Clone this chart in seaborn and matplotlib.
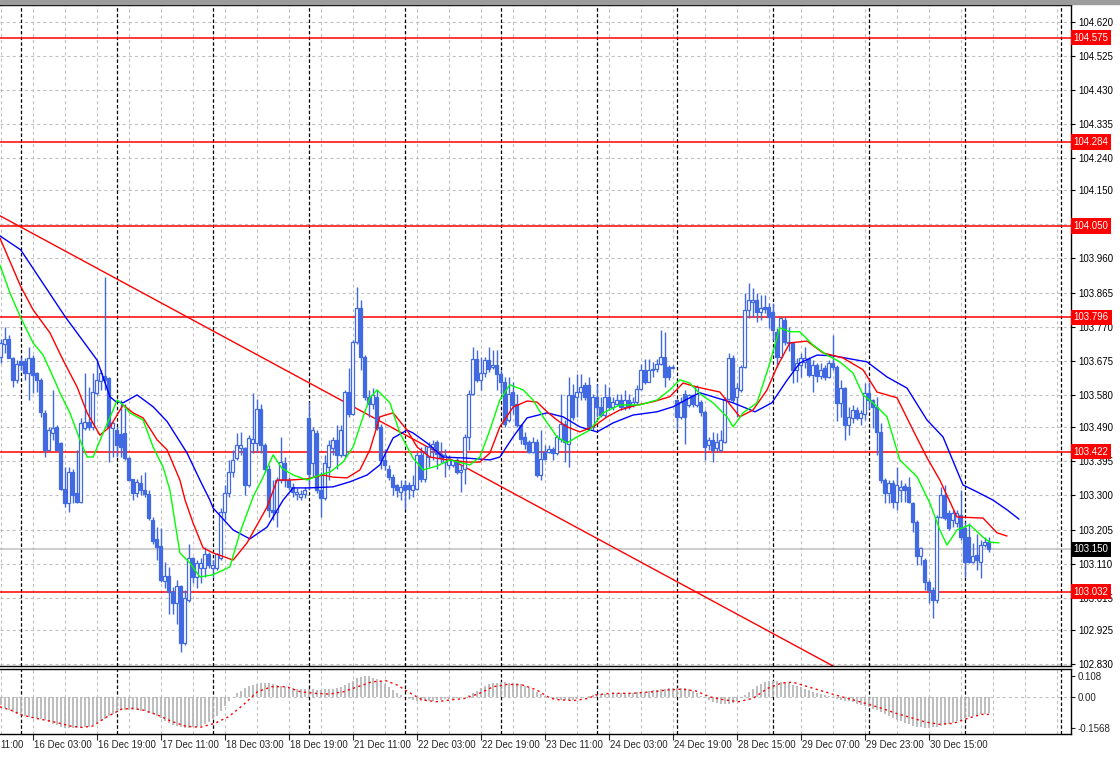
import matplotlib
matplotlib.use("Agg")
import matplotlib.pyplot as plt
import matplotlib.transforms as mtransforms
from matplotlib.patches import Rectangle
import seaborn as sns

## hourly bars, bar 0 = 16 Dec 00:00 (weekend hours are skipped like the terminal does)
first_bar = -5
opens = [103.686, 103.723, 103.737, 103.682, 103.621, 103.675, 103.675, 103.640, 103.684, 103.640,
         103.621, 103.531, 103.426, 103.475, 103.491, 103.445, 103.317, 103.278, 103.366, 103.306,
         103.282, 103.487, 103.505, 103.491, 103.584, 103.619, 103.632, 103.626, 103.489, 103.482,
         103.471, 103.473, 103.403, 103.347, 103.306, 103.335, 103.315, 103.304, 103.233, 103.180,
         103.159, 103.062, 103.075, 103.032, 103.001, 103.047, 102.888, 103.008, 103.125, 103.074,
         103.099, 103.099, 103.138, 103.097, 103.099, 103.125, 103.255, 103.306, 103.366, 103.403,
         103.431, 103.431, 103.329, 103.445, 103.445, 103.542, 103.440, 103.375, 103.259, 103.255,
         103.343, 103.391, 103.343, 103.324, 103.304, 103.295, 103.304, 103.515, 103.389, 103.473,
         103.315, 103.292, 103.380, 103.431, 103.454, 103.412, 103.412, 103.589, 103.528, 103.728,
         103.821, 103.686, 103.575, 103.556, 103.575, 103.491, 103.400, 103.375, 103.352, 103.328,
         103.310, 103.328, 103.328, 103.316, 103.319, 103.412, 103.345, 103.407, 103.435, 103.449,
         103.416, 103.393, 103.384, 103.384, 103.398, 103.365, 103.375, 103.463, 103.583, 103.681,
         103.621, 103.640, 103.676, 103.658, 103.664, 103.639, 103.616, 103.509, 103.588, 103.556,
         103.495, 103.463, 103.449, 103.421, 103.449, 103.356, 103.420, 103.421, 103.428, 103.417,
         103.458, 103.498, 103.444, 103.581, 103.574, 103.588, 103.607, 103.607, 103.491, 103.574,
         103.546, 103.523, 103.574, 103.546, 103.556, 103.565, 103.546, 103.565, 103.553, 103.560,
         103.597, 103.649, 103.616, 103.649, 103.653, 103.667, 103.686, 103.658, 103.658, 103.565,
         103.519, 103.583, 103.551, 103.579, 103.551, 103.561, 103.533, 103.441, 103.454, 103.431,
         103.427, 103.450, 103.570, 103.682, 103.575, 103.594, 103.659, 103.817, 103.840, 103.844,
         103.812, 103.824, 103.826, 103.812, 103.756, 103.687, 103.789, 103.728, 103.724, 103.649,
         103.663, 103.673, 103.679, 103.636, 103.663, 103.633, 103.654, 103.631, 103.670, 103.659,
         103.557, 103.598, 103.496, 103.515, 103.538, 103.515, 103.527, 103.584, 103.565, 103.547,
         103.478, 103.343, 103.306, 103.334, 103.283, 103.315, 103.326, 103.324, 103.278, 103.227,
         103.130, 103.120, 103.060, 103.037, 103.009, 103.241, 103.301, 103.250, 103.232, 103.222,
         103.246, 103.208, 103.185, 103.116, 103.134, 103.116, 103.162, 103.171]
highs = [103.735, 103.770, 103.747, 103.686, 103.677, 103.686, 103.682, 103.714, 103.691, 103.645,
         103.626, 103.538, 103.491, 103.593, 103.496, 103.450, 103.380, 103.380, 103.375, 103.426,
         103.515, 103.640, 103.603, 103.640, 103.677, 103.649, 103.909, 103.630, 103.505, 103.491,
         103.566, 103.556, 103.408, 103.347, 103.345, 103.357, 103.366, 103.315, 103.241, 103.213,
         103.208, 103.115, 103.101, 103.046, 103.064, 103.050, 103.036, 103.166, 103.129, 103.120,
         103.125, 103.157, 103.143, 103.120, 103.140, 103.264, 103.329, 103.398, 103.426, 103.473,
         103.477, 103.436, 103.468, 103.584, 103.570, 103.556, 103.445, 103.385, 103.343, 103.352,
         103.463, 103.408, 103.352, 103.334, 103.320, 103.315, 103.324, 103.561, 103.491, 103.482,
         103.366, 103.412, 103.454, 103.463, 103.496, 103.496, 103.593, 103.654, 103.733, 103.880,
         103.844, 103.691, 103.593, 103.600, 103.593, 103.500, 103.430, 103.384, 103.361, 103.333,
         103.342, 103.342, 103.338, 103.356, 103.421, 103.435, 103.440, 103.449, 103.454, 103.454,
         103.449, 103.430, 103.412, 103.400, 103.405, 103.384, 103.472, 103.593, 103.714, 103.704,
         103.686, 103.686, 103.714, 103.704, 103.704, 103.649, 103.630, 103.630, 103.616, 103.583,
         103.500, 103.477, 103.454, 103.463, 103.458, 103.481, 103.440, 103.440, 103.435, 103.467,
         103.583, 103.509, 103.630, 103.611, 103.639, 103.639, 103.616, 103.630, 103.583, 103.611,
         103.574, 103.611, 103.602, 103.574, 103.583, 103.583, 103.593, 103.583, 103.574, 103.607,
         103.667, 103.681, 103.681, 103.672, 103.681, 103.760, 103.755, 103.662, 103.662, 103.570,
         103.574, 103.593, 103.583, 103.583, 103.607, 103.566, 103.538, 103.464, 103.478, 103.473,
         103.482, 103.575, 103.696, 103.691, 103.612, 103.663, 103.863, 103.891, 103.877, 103.863,
         103.858, 103.858, 103.835, 103.835, 103.766, 103.798, 103.798, 103.770, 103.728, 103.682,
         103.696, 103.714, 103.687, 103.677, 103.668, 103.670, 103.663, 103.677, 103.747, 103.663,
         103.622, 103.603, 103.547, 103.552, 103.547, 103.538, 103.612, 103.617, 103.570, 103.575,
         103.501, 103.348, 103.343, 103.343, 103.380, 103.343, 103.334, 103.352, 103.283, 103.232,
         103.157, 103.125, 103.064, 103.046, 103.246, 103.324, 103.329, 103.259, 103.259, 103.259,
         103.315, 103.227, 103.222, 103.167, 103.194, 103.176, 103.185, 103.185]
lows = [103.668, 103.696, 103.682, 103.603, 103.612, 103.649, 103.621, 103.566, 103.584, 103.589,
        103.519, 103.408, 103.426, 103.454, 103.426, 103.315, 103.269, 103.255, 103.278, 103.278,
        103.278, 103.482, 103.482, 103.482, 103.580, 103.593, 103.593, 103.394, 103.408, 103.408,
        103.408, 103.398, 103.343, 103.287, 103.296, 103.301, 103.296, 103.231, 103.166, 103.120,
        103.060, 103.041, 102.971, 102.971, 102.943, 102.865, 102.883, 103.004, 103.055, 103.041,
        103.055, 103.074, 103.097, 103.074, 103.092, 103.120, 103.231, 103.296, 103.352, 103.398,
        103.412, 103.301, 103.324, 103.417, 103.422, 103.417, 103.366, 103.241, 103.231, 103.213,
        103.334, 103.324, 103.315, 103.296, 103.287, 103.287, 103.292, 103.315, 103.352, 103.306,
        103.241, 103.287, 103.343, 103.412, 103.375, 103.408, 103.408, 103.519, 103.524, 103.723,
        103.649, 103.566, 103.519, 103.540, 103.482, 103.375, 103.370, 103.342, 103.300, 103.296,
        103.287, 103.263, 103.291, 103.296, 103.314, 103.338, 103.338, 103.379, 103.398, 103.375,
        103.389, 103.352, 103.375, 103.380, 103.361, 103.310, 103.333, 103.426, 103.579, 103.616,
        103.593, 103.630, 103.644, 103.653, 103.593, 103.583, 103.491, 103.505, 103.528, 103.491,
        103.444, 103.430, 103.417, 103.417, 103.351, 103.342, 103.398, 103.417, 103.398, 103.412,
        103.449, 103.393, 103.379, 103.509, 103.519, 103.565, 103.565, 103.481, 103.481, 103.519,
        103.519, 103.519, 103.537, 103.537, 103.551, 103.537, 103.537, 103.542, 103.546, 103.556,
        103.593, 103.611, 103.616, 103.630, 103.644, 103.662, 103.602, 103.621, 103.653, 103.486,
        103.514, 103.444, 103.546, 103.546, 103.546, 103.520, 103.399, 103.427, 103.394, 103.422,
        103.422, 103.445, 103.566, 103.561, 103.519, 103.589, 103.654, 103.793, 103.798, 103.784,
        103.789, 103.807, 103.766, 103.733, 103.659, 103.682, 103.719, 103.701, 103.612, 103.617,
        103.631, 103.654, 103.631, 103.589, 103.617, 103.625, 103.622, 103.626, 103.649, 103.506,
        103.519, 103.454, 103.468, 103.501, 103.510, 103.496, 103.510, 103.540, 103.487, 103.413,
        103.334, 103.278, 103.278, 103.264, 103.259, 103.283, 103.283, 103.278, 103.199, 103.106,
        103.106, 103.037, 103.000, 102.958, 103.000, 103.236, 103.232, 103.204, 103.213, 103.213,
        103.176, 103.074, 103.111, 103.111, 103.092, 103.069, 103.157, 103.143]
closes = [103.725, 103.737, 103.682, 103.621, 103.666, 103.663, 103.640, 103.682, 103.635, 103.621,
          103.533, 103.426, 103.482, 103.489, 103.426, 103.317, 103.278, 103.366, 103.301, 103.282,
          103.501, 103.505, 103.491, 103.589, 103.621, 103.640, 103.621, 103.491, 103.501, 103.440,
          103.436, 103.403, 103.343, 103.306, 103.338, 103.315, 103.304, 103.236, 103.174, 103.157,
          103.064, 103.075, 103.032, 103.001, 103.047, 102.888, 103.013, 103.125, 103.074, 103.111,
          103.111, 103.138, 103.106, 103.106, 103.138, 103.255, 103.306, 103.366, 103.398, 103.440,
          103.440, 103.329, 103.459, 103.456, 103.542, 103.440, 103.375, 103.259, 103.255, 103.343,
          103.394, 103.343, 103.324, 103.310, 103.310, 103.304, 103.315, 103.361, 103.482, 103.315,
          103.292, 103.389, 103.440, 103.454, 103.412, 103.482, 103.589, 103.528, 103.728, 103.821,
          103.686, 103.575, 103.556, 103.580, 103.487, 103.400, 103.384, 103.352, 103.324, 103.314,
          103.324, 103.314, 103.319, 103.328, 103.412, 103.345, 103.420, 103.435, 103.444, 103.416,
          103.405, 103.412, 103.398, 103.398, 103.365, 103.370, 103.463, 103.583, 103.681, 103.621,
          103.640, 103.676, 103.653, 103.664, 103.639, 103.616, 103.500, 103.583, 103.551, 103.495,
          103.458, 103.444, 103.421, 103.449, 103.356, 103.402, 103.402, 103.430, 103.417, 103.463,
          103.498, 103.449, 103.581, 103.519, 103.588, 103.602, 103.574, 103.491, 103.574, 103.546,
          103.523, 103.574, 103.546, 103.560, 103.565, 103.546, 103.565, 103.546, 103.560, 103.597,
          103.649, 103.616, 103.649, 103.653, 103.667, 103.686, 103.630, 103.630, 103.656, 103.519,
          103.560, 103.519, 103.579, 103.556, 103.602, 103.533, 103.436, 103.454, 103.427, 103.450,
          103.454, 103.570, 103.682, 103.566, 103.598, 103.659, 103.817, 103.844, 103.844, 103.812,
          103.821, 103.818, 103.798, 103.761, 103.687, 103.793, 103.728, 103.724, 103.649, 103.668,
          103.682, 103.682, 103.636, 103.663, 103.633, 103.649, 103.631, 103.670, 103.659, 103.557,
          103.598, 103.496, 103.519, 103.538, 103.515, 103.529, 103.584, 103.565, 103.547, 103.478,
          103.343, 103.306, 103.334, 103.283, 103.329, 103.324, 103.315, 103.283, 103.227, 103.130,
          103.153, 103.060, 103.037, 103.009, 103.241, 103.301, 103.236, 103.208, 103.250, 103.250,
          103.185, 103.116, 103.116, 103.131, 103.120, 103.162, 103.171, 103.150]

## alligator lines (bar position, price)
jaw_x = [-5.2, 0, 11.1, 19.1, 22.3, 23.8, 25.6, 29.1, 33.1, 36.6, 41.6, 44.8, 47.3, 48.1, 53.1, 57.3,
         61.6, 65.6, 68.1, 71.8, 78.1, 82.3, 86.6, 89.8, 93.1, 96.6, 98.1, 101.6, 105.6, 111.6, 117.3,
         119.8, 123.1, 126.6, 131.6, 135.6, 139.8, 144.1, 148.1, 153.1, 159.1, 163.1, 167.3, 169.8,
         178.1, 183.6, 187.8, 191.6, 194.8, 199.1, 203.1, 211.6, 216.6, 221.6, 226.6, 230.6, 235.6,
         239.1, 243.1, 246.6, 249.6]
jaw_y = [104.023, 103.984, 103.798, 103.677, 103.575, 103.561, 103.558, 103.580, 103.547, 103.506,
         103.418, 103.343, 103.287, 103.265, 103.204, 103.179, 103.212, 103.287, 103.321, 103.321,
         103.324, 103.338, 103.357, 103.385, 103.460, 103.482, 103.474, 103.446, 103.407, 103.404,
         103.399, 103.407, 103.463, 103.516, 103.530, 103.519, 103.491, 103.477, 103.502, 103.524,
         103.533, 103.547, 103.572, 103.586, 103.558, 103.533, 103.558, 103.621, 103.669, 103.691,
         103.689, 103.672, 103.630, 103.599, 103.510, 103.463, 103.329, 103.310, 103.287, 103.260,
         103.234]
teeth_x = [-5.2, 0, 3.1, 7.3, 10.6, 14.1, 16.6, 19.8, 22.3, 25.6, 28.1, 30.6, 34.1, 36.6, 39.8, 41.1,
           43.1, 45.6, 48.1, 53.1, 56.6, 59.8, 61.6, 64.1, 67.3, 71.6, 75.6, 78.1, 81.6, 84.8, 87.3,
           89.8, 93.1, 96.6, 99.1, 102.3, 106.6, 111.6, 114.8, 117.3, 119.8, 123.1, 126.6, 129.1,
           131.6, 134.1, 136.6, 139.8, 143.1, 146.6, 149.8, 154.1, 158.1, 162.3, 165.6, 169.1, 174.8,
           179.8, 183.1, 186.6, 189.1, 192.3, 196.6, 200.6, 205.6, 210.6, 214.1, 219.1, 223.1, 226.6,
           229.8, 234.1, 240.6, 244.1, 246.6]
teeth_y = [104.017, 103.882, 103.817, 103.753, 103.677, 103.602, 103.530, 103.468, 103.491, 103.552,
           103.530, 103.516, 103.455, 103.427, 103.343, 103.287, 103.223, 103.154, 103.140, 103.120,
           103.168, 103.232, 103.268, 103.343, 103.343, 103.346, 103.357, 103.351, 103.349, 103.371,
           103.427, 103.519, 103.530, 103.482, 103.435, 103.407, 103.399, 103.393, 103.393, 103.418,
           103.491, 103.546, 103.563, 103.560, 103.533, 103.510, 103.491, 103.477, 103.491, 103.519,
           103.538, 103.552, 103.561, 103.575, 103.613, 103.602, 103.588, 103.519, 103.538, 103.594,
           103.658, 103.725, 103.730, 103.697, 103.683, 103.650, 103.588, 103.572, 103.482, 103.405,
           103.343, 103.240, 103.237, 103.196, 103.187]
lips_x = [-5.2, -2.7, 0, 3.1, 5.6, 8.1, 9.8, 12.3, 14.8, 16.6, 18.1, 20.6, 23.1, 24.1, 25.6, 27.3,
          30.6, 33.1, 35.6, 37.3, 39.8, 42.3, 44.8, 48.1, 52.3, 54.8, 58.1, 60.6, 63.1, 65.3, 68.1,
          71.6, 74.8, 77.3, 80.6, 83.1, 85.6, 87.3, 89.1, 92.3, 94.8, 98.1, 100.6, 104.1, 107.3, 112.3,
          114.8, 117.3, 119.8, 122.3, 125.6, 128.1, 130.6, 134.1, 136.6, 139.1, 142.3, 145.6, 149.8,
          154.8, 159.1, 162.3, 164.8, 167.3, 169.8, 173.1, 176.6, 178.1, 180.6, 184.1, 187.3, 189.8,
          192.3, 194.8, 198.1, 201.6, 204.8, 208.1, 210.6, 213.1, 216.6, 219.8, 224.1, 227.3, 229.8,
          231.6, 234.1, 237.3, 240.6, 242.3, 244.6]
lips_y = [103.942, 103.864, 103.795, 103.725, 103.691, 103.630, 103.586, 103.530, 103.455, 103.407,
          103.407, 103.474, 103.538, 103.566, 103.552, 103.530, 103.510, 103.435, 103.379, 103.315,
          103.140, 103.112, 103.073, 103.079, 103.101, 103.196, 103.296, 103.351, 103.413, 103.376,
          103.357, 103.343, 103.357, 103.365, 103.393, 103.435, 103.519, 103.572, 103.594, 103.558,
          103.474, 103.404, 103.371, 103.382, 103.399, 103.385, 103.407, 103.482, 103.566, 103.608,
          103.594, 103.566, 103.519, 103.463, 103.446, 103.463, 103.482, 103.530, 103.552, 103.552,
          103.566, 103.594, 103.622, 103.613, 103.583, 103.558, 103.519, 103.491, 103.530, 103.558,
          103.669, 103.767, 103.756, 103.756, 103.719, 103.691, 103.672, 103.641, 103.580, 103.558,
          103.519, 103.399, 103.352, 103.279, 103.204, 103.162, 103.204, 103.218, 103.184, 103.170,
          103.168]

## MACD panel
macd_hist = [-0.041, -0.055, -0.065, -0.075, -0.085, -0.092,
             -0.097, -0.102, -0.106, -0.110, -0.114, -0.120, -0.128, -0.137, -0.146, -0.154,
             -0.158, -0.160, -0.161, -0.160, -0.158, -0.156, -0.152, -0.143, -0.133, -0.122,
             -0.112, -0.098, -0.085, -0.073, -0.068, -0.066, -0.066, -0.067, -0.068, -0.070,
             -0.074, -0.080, -0.088, -0.098, -0.110, -0.122, -0.132, -0.142, -0.150, -0.155,
             -0.158, -0.157, -0.155, -0.152, -0.148, -0.140, -0.128, -0.112, -0.095, -0.072,
             -0.048, -0.022, 0.000, 0.018, 0.032, 0.045, 0.056, 0.064, 0.069, 0.071,
             0.072, 0.070, 0.066, 0.060, 0.055, 0.050, 0.047, 0.044, 0.042, 0.041,
             0.040, 0.040, 0.039, 0.038, 0.038, 0.039, 0.040, 0.041, 0.045, 0.052,
             0.060, 0.070, 0.082, 0.095, 0.104, 0.108, 0.106, 0.100, 0.092, 0.080,
             0.066, 0.052, 0.038, 0.022, 0.010, 0.000, -0.010, -0.016, -0.019, -0.020,
             -0.020, -0.020, -0.019, -0.017, -0.015, -0.012, -0.010, -0.008, -0.005, -0.002,
             0.002, 0.008, 0.018, 0.032, 0.046, 0.058, 0.066, 0.071, 0.074, 0.075,
             0.075, 0.074, 0.072, 0.070, 0.066, 0.058, 0.048, 0.036, 0.024, 0.014,
             0.006, 0.000, -0.005, -0.010, -0.014, -0.016, -0.015, -0.013, -0.010, -0.006,
             -0.002, 0.004, 0.008, 0.011, 0.013, 0.015, 0.017, 0.018, 0.019, 0.020,
             0.020, 0.021, 0.022, 0.024, 0.026, 0.028, 0.031, 0.034, 0.037, 0.040,
             0.042, 0.044, 0.045, 0.046, 0.046, 0.045, 0.040, 0.030, 0.018, 0.006,
             -0.006, -0.016, -0.024, -0.030, -0.034, -0.035, -0.034, -0.030, -0.020, -0.006,
             0.010, 0.026, 0.042, 0.056, 0.068, 0.076, 0.080, 0.082, 0.081, 0.079,
             0.075, 0.070, 0.064, 0.057, 0.050, 0.042, 0.035, 0.028, 0.021, 0.015,
             0.009, 0.003, -0.003, -0.008, -0.013, -0.018, -0.023, -0.028, -0.034, -0.040,
             -0.046, -0.052, -0.060, -0.068, -0.076, -0.086, -0.096, -0.106, -0.116, -0.124,
             -0.132, -0.140, -0.147, -0.152, -0.155, -0.157, -0.157, -0.156, -0.154, -0.150,
             -0.145, -0.139, -0.132, -0.124, -0.116, -0.108, -0.101, -0.095, -0.090, -0.087,
             -0.085, -0.083]
signal_x = [-5.2, -2.5, 0.2, 3.7, 8.2, 12.7, 15.4, 18.1, 21.6, 25.2, 27.9, 30.6, 34.2, 37.7, 41.3,
            44.9, 48.5, 52.0, 55.6, 59.2, 62.8, 66.4, 69.9, 73.5, 77.1, 80.7, 84.3, 87.8, 91.4, 94.1,
            96.8, 100.4, 103.9, 107.5, 111.1, 114.7, 118.2, 121.8, 125.4, 129.0, 132.5, 134.8, 138.4,
            142.0, 143.7, 147.3, 152.7, 158.1, 161.6, 165.2, 168.8, 172.4, 176.0, 179.5, 183.1, 186.7,
            190.3, 193.0, 197.4, 201.0, 204.6, 208.2, 211.7, 215.3, 218.9, 222.5, 226.0, 229.6, 233.2,
            236.8, 240.3, 242.1]
signal_y = [-0.050, -0.067, -0.092, -0.109, -0.127, -0.150, -0.156, -0.148, -0.101, -0.063, -0.058,
            -0.067, -0.092, -0.125, -0.150, -0.155, -0.135, -0.101, -0.041, 0.027, 0.053, 0.053,
            0.027, 0.019, 0.015, 0.027, 0.053, 0.078, 0.083, 0.062, 0.027, -0.015, -0.024, -0.015,
            -0.007, 0.019, 0.053, 0.065, 0.062, 0.036, -0.007, -0.015, -0.018, -0.007, 0.010, 0.019,
            0.019, 0.027, 0.036, 0.040, 0.031, 0.000, -0.015, -0.024, -0.007, 0.044, 0.072, 0.076,
            0.049, 0.027, 0.005, -0.015, -0.036, -0.058, -0.084, -0.105, -0.127, -0.140, -0.135,
            -0.109, -0.089, -0.089]

## drawn objects
levels = [104.575, 104.284, 104.050, 103.796, 103.422, 103.032]
last_price = 103.150
trend_x = [-5.2, 203.1]
trend_y = [104.079, 102.825]
day_starts = [0, 24, 48, 72, 96, 120, 144, 164, 188, 212, 236, 260]
price_ticks = [104.620, 104.525, 104.430, 104.335, 104.240, 104.150, 104.055, 103.960, 103.865, 103.770,
               103.675, 103.580, 103.490, 103.395, 103.300, 103.205, 103.110, 103.015, 102.925, 102.830]
hidden_tick = 104.055  # sits under the 104.050 level label in the terminal
time_ticks = [3, 19, 35, 51, 67, 83, 99, 115, 131, 147, 163, 179, 195, 211, 227]
time_labels = ["16 Dec 03:00", "16 Dec 19:00", "17 Dec 11:00", "18 Dec 03:00",
               "18 Dec 19:00", "21 Dec 11:00", "22 Dec 03:00", "22 Dec 19:00", "23 Dec 11:00",
               "24 Dec 03:00", "24 Dec 19:00", "28 Dec 15:00", "29 Dec 07:00", "29 Dec 23:00",
               "30 Dec 15:00"]
edge_label = "11:00"  # tail of the 15 Dec label, cut by the window edge
macd_ticks = [0.108, 0.0, -0.1568]
macd_labels = ["0.108", "0.00", "-0.1568"]

sns.set_style("white")
plt.rcParams['font.family'] = ['Liberation Sans', 'DejaVu Sans']
plt.rcParams['lines.scale_dashes'] = False

CANDLE = "#4169E1"
GRID = "#c0c0c0"
FS = 7.0
grid_dash = (0, (2.2, 2.2))
sep_dash = (0, (2.5, 1.6))

fig = plt.figure(figsize=(11.2, 7.57), dpi=100)
fig.patch.set_facecolor("white")
ax = fig.add_axes([0, 1 - 666 / 757, 1071 / 1120, 661 / 757])
ax2 = fig.add_axes([0, 1 - 734 / 757, 1071 / 1120, 65 / 757])
fig.patches.append(Rectangle((0, 1 - 4 / 757), 1, 4 / 757, transform=fig.transFigure,
                             color="#9c9c9c", zorder=0))

bars = list(range(first_bar, first_bar + len(closes)))
xmin, xmax = -5.18, 262.6
grid_bars = list(range(-5, 263, 8))

## grid + day separators
for a in (ax, ax2):
    for g in grid_bars:
        a.axvline(g, color=GRID, lw=0.8, ls=grid_dash, zorder=0)
    for d in day_starts:
        a.axvline(d, color="black", lw=0.9, ls=sep_dash, zorder=0.5)
for t in price_ticks:
    ax.axhline(t, color=GRID, lw=0.8, ls=grid_dash, zorder=0)
ax2.axhline(0, color=GRID, lw=0.8, ls=grid_dash, zorder=0)

## candles
ax.vlines(bars, lows, highs, color=CANDLE, lw=1.0, zorder=2)
for b, o, c in zip(bars, opens, closes):
    bottom = min(o, c)
    height = max(abs(c - o), 0.0015)
    face = "white" if c >= o else CANDLE
    ax.bar(b, height, bottom=bottom, width=0.62, color=face, edgecolor=CANDLE,
           linewidth=0.9, zorder=3)

## alligator
sns.lineplot(x=jaw_x, y=jaw_y, ax=ax, color="#0000ff", lw=1.0, estimator=None, sort=False, zorder=4)
sns.lineplot(x=teeth_x, y=teeth_y, ax=ax, color="#ff0000", lw=1.0, estimator=None, sort=False, zorder=4)
sns.lineplot(x=lips_x, y=lips_y, ax=ax, color="#00ff00", lw=1.0, estimator=None, sort=False, zorder=4)

## levels, trend, last price
for lv in levels:
    ax.axhline(lv, color="#ff0000", lw=1.1, zorder=1.5)
ax.axhline(last_price, color="#c0c0c0", lw=1.1, zorder=1.5)
ax.plot(trend_x, trend_y, color="#ff0000", lw=1.0, zorder=1.6)

ax.set_xlim(xmin, xmax)
ax.set_ylim(102.825, 104.666)

## right price scale
ax.yaxis.tick_right()
ax.set_yticks(price_ticks)
ax.set_yticklabels(["" if t == hidden_tick else f"{t:.3f}" for t in price_ticks])
ax.tick_params(axis="y", direction="out", length=3, width=0.8, pad=2, labelsize=FS,
               colors="black", right=True, left=False)
ax.tick_params(axis="x", length=0, labelbottom=False)
ytrans = mtransforms.blended_transform_factory(ax.transAxes, ax.transData)
for lv in levels:
    ax.text(1.0025, lv, f"{lv:.3f}", transform=ytrans, color="white", fontsize=FS,
            va="center", ha="left", clip_on=False, zorder=6,
            bbox=dict(boxstyle="square,pad=0.28", fc="#ff0000", ec="none"))
ax.text(1.0025, last_price, f"{last_price:.3f}", transform=ytrans, color="white", fontsize=FS,
        va="center", ha="left", clip_on=False, zorder=6,
        bbox=dict(boxstyle="square,pad=0.28", fc="black", ec="none"))

## MACD: histogram as thin grey bars, signal dotted red
ax2.vlines(bars, 0, macd_hist, color="#b8b8b8", lw=1.3, zorder=2)
sns.lineplot(x=signal_x, y=signal_y, ax=ax2, color="#ff0000", lw=1.0, estimator=None, sort=False, zorder=3)
ax2.lines[-1].set_linestyle((0, (1.6, 2.4)))
ax2.set_xlim(xmin, xmax)
ax2.set_ylim(-0.1897, 0.1436)
ax2.yaxis.tick_right()
ax2.set_yticks(macd_ticks)
ax2.set_yticklabels(macd_labels)
ax2.tick_params(axis="y", direction="out", length=3, width=0.8, pad=2, labelsize=FS,
                right=True, left=False)

## time axis, labels start at the tick like the terminal draws them
ax2.set_xticks(time_ticks)
ax2.set_xticklabels([])
ax2.tick_params(axis="x", direction="out", length=4, width=0.8, bottom=True)
xtrans = mtransforms.blended_transform_factory(ax2.transData, ax2.transAxes)
for t, lab in zip(time_ticks, time_labels):
    ax2.text(t + 0.4, -0.17, lab, transform=xtrans, fontsize=FS, ha="left", va="center",
             clip_on=False)
ax2.text(0.0005, -0.17, edge_label, transform=ax2.transAxes, fontsize=FS, ha="left",
         va="center", clip_on=False)

for a in (ax, ax2):
    a.set_xlabel("")
    a.set_ylabel("")
    a.set_facecolor("white")
    a.spines["left"].set_visible(False)
    for s in ("top", "bottom", "right"):
        a.spines[s].set_visible(True)
        a.spines[s].set_color("black")
        a.spines[s].set_linewidth(1.0)

fig.savefig("out.png", dpi=100)
